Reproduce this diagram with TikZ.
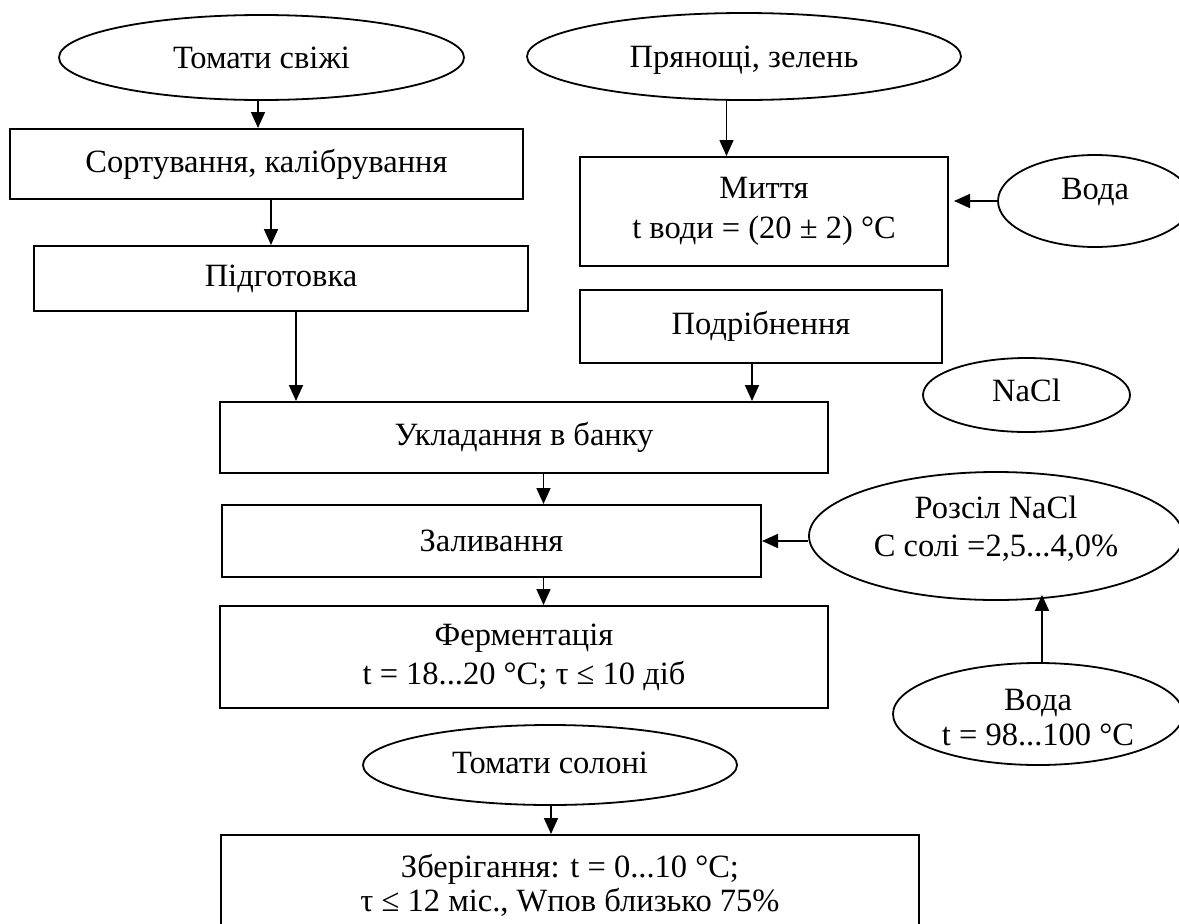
\documentclass[tikz,border=0pt]{standalone}
\usepackage{fontspec}
\setmainfont{Liberation Serif}
\usetikzlibrary{shapes.geometric,arrows.meta}
\begin{document}
\begin{tikzpicture}[x=1pt,y=-1pt,
  every node/.style={font=\fontsize{32.5}{38}\selectfont},
  box/.style={draw,line width=2pt,rectangle,inner sep=0pt,align=center},
  ell/.style={draw,line width=1.8pt,ellipse,inner sep=0pt},
  txt/.style={inner sep=0pt,align=center},
  arr/.style={line width=1.7pt,-{Triangle[length=16pt,width=14pt]}}
]
\clip (0,0) rectangle (1179,924);

% ellipses
\node[ell,minimum width=405pt,minimum height=85pt] (tom) at (261.5,57.5) {};
\node[txt] (tomt) at (tom.center) {Томати свіжі};
\node[ell,minimum width=434pt,minimum height=87pt] (pryan) at (744,56.5) {};
\node[txt] (pryant) at ([yshift=-4pt]pryan.center) {Прянощі, зелень};
\node[ell,minimum width=194pt,minimum height=92pt] (voda1) at (1095,201) {};
\node[txt] (voda1t) at ([yshift=9pt]voda1.center) {Вода};
\node[ell,minimum width=207pt,minimum height=74pt] (nacl) at (1026.5,395) {};
\node[txt] (naclt) at ([yshift=5pt]nacl.center) {NaCl};
\node[ell,minimum width=374pt,minimum height=128pt] (rozsil) at (996,536) {};
\node[txt] (rozsilt) at ([yshift=7pt]rozsil.center) {Розсіл NaCl\\C солі =2,5...4,0\%};
\node[ell,minimum width=290pt,minimum height=102pt] (voda2) at (1038,714) {};
\node[txt,font=\fontsize{32.5}{35}\selectfont] (voda2t) at ([yshift=-4pt]voda2.center) {Вода\\t = 98...100 °C};
\node[ell,minimum width=374pt,minimum height=80pt] (tomsol) at (550,765) {};
\node[txt] (tomsolt) at ([yshift=2pt]tomsol.center) {Томати солоні};

% boxes
\node[box,minimum width=513pt,minimum height=70pt] (sort) at (266.5,164) {Сортування, калібрування};
\node[box,minimum width=494pt,minimum height=65pt] (pidg) at (281,278.5) {Підготовка};
\node[box,minimum width=368pt,minimum height=109pt,font=\fontsize{32.5}{40}\selectfont] (myttia) at (764,211.5) {Миття\\t води = (20 ± 2) °C};
\node[box,minimum width=362pt,minimum height=73pt] (podr) at (761,326.5) {Подрібнення};
\node[box,minimum width=608pt,minimum height=71pt] (ukl) at (524,437.5) {Укладання в банку};
\node[box,minimum width=539pt,minimum height=72pt] (zal) at (491.5,541) {Заливання};
\node[box,minimum width=608pt,minimum height=102pt,font=\fontsize{32.5}{39}\selectfont] (ferm) at (524,657) {Ферментація\\t = 18...20 °C; τ ≤ 10 діб};
\node[box,minimum width=698pt,minimum height=100pt,font=\fontsize{32.5}{34}\selectfont] (zber) at (570,885) {Зберігання: t = 0...10 °C;\\τ ≤ 12 міс., Wпов близько 75\%};

% connectors
\draw[arr] ([xshift=-3.5pt]tom.south) -- ([xshift=-3.5pt]tom.south |- sort.north);
\draw[arr] ([xshift=4.5pt]sort.south) -- ([xshift=4.5pt]sort.south |- pidg.north);
\draw[arr] ([xshift=15pt]pidg.south) -- ([xshift=15pt]pidg.south |- ukl.north);
\draw[arr] ([xshift=-17.5pt]pryan.south) -- ([xshift=-17.5pt]pryan.south |- myttia.north);
\draw[arr] (voda1.west) -- ([xshift=5pt]myttia.east |- voda1.west);
\draw[arr] ([xshift=-9pt]podr.south) -- ([xshift=-9pt]podr.south |- ukl.north);
\draw[arr] ([xshift=19.5pt]ukl.south) -- ([xshift=19.5pt]ukl.south |- zal.north);
\draw[arr] (rozsil.west |- zal.east) -- (zal.east);
\draw[arr] ([xshift=52pt]zal.south) -- ([xshift=52pt]zal.south |- ferm.north);
\draw[arr,shorten >=-6pt] ([xshift=4pt]voda2.north) -- ([xshift=4pt]voda2.north |- rozsil.south);
\draw[arr] ([xshift=1pt]tomsol.south) -- ([xshift=1pt]tomsol.south |- zber.north);
\end{tikzpicture}
\end{document}
